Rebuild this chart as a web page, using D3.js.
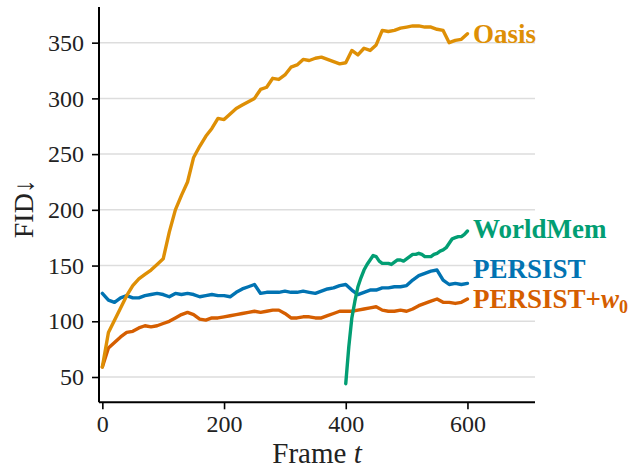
<!DOCTYPE html>
<html>
<head>
<meta charset="utf-8">
<script src="https://cdn.jsdelivr.net/npm/d3@7"></script>
<style>
  body { margin: 0; background: #fff; }
  text { font-family: "Liberation Serif", "Times New Roman", serif; }
</style>
</head>
<body>
<script>
// data (FID per frame)
const frames = [0, 10, 20, 30, 40, 50, 60, 70, 80, 90, 100, 110, 120, 130, 140, 150, 160, 170, 180, 190,
  200, 210, 220, 230, 240, 250, 260, 270, 280, 290, 300, 310, 320, 330, 340, 350, 360, 370, 380, 390,
  400, 410, 420, 430, 440, 450, 460, 470, 480, 490, 500, 510, 520, 530, 540, 550, 560, 570, 580, 590, 600];
const oasis = [59, 90, 101, 112, 123, 132, 138, 142, 146, 151, 156, 180, 200, 213, 225, 247, 257, 266, 273, 282,
  281, 286, 291, 294, 297, 300, 308, 310, 318, 317, 321, 328, 330, 335, 334, 336, 337, 335, 333, 331,
  332, 343, 339, 345, 343, 348, 361, 360, 361, 363, 364, 365, 365, 364, 364, 362, 361, 350, 352, 353, 358];
const persist = [125, 119, 117, 121, 123, 121, 121, 123, 124, 125, 124, 122, 125, 124, 125, 124, 122, 123, 124, 123,
  123, 122, 126, 129, 131, 133, 125, 126, 126, 126, 127, 126, 126, 127, 126, 125, 127, 129, 130, 132,
  133, 128, 124, 126, 128, 128, 130, 130, 131, 131, 132, 137, 141, 143, 145, 146, 137, 133, 134, 133, 134];
const persistW0 = [59, 76, 81, 86, 90, 91, 94, 96, 95, 96, 98, 100, 103, 106, 108, 106, 102, 101, 103, 103,
  104, 105, 106, 107, 108, 109, 108, 109, 110, 110, 107, 103, 103, 104, 104, 103, 103, 105, 107, 109,
  109, 109, 110, 111, 112, 113, 110, 109, 109, 110, 109, 111, 114, 116, 118, 120, 117, 117, 116, 117, 120];
const worldMemFrames = [400, 405, 410, 415, 420, 425, 430, 435, 440, 445, 450, 455, 460, 465, 470, 475, 480, 485, 490, 495,
  500, 505, 510, 515, 520, 525, 530, 535, 540, 545, 550, 555, 560, 565, 570, 575, 580, 585, 590, 595, 600];
const worldMem = [44, 77, 103, 118, 131, 139, 146, 151, 155, 159, 158, 154, 152, 152, 152, 151, 153, 155, 155, 154,
  156, 158, 160, 160, 161, 160, 158, 158, 158, 160, 161, 163, 164, 166, 170, 174, 175, 176, 176, 178, 181];
const xTicks = [0, 200, 400, 600];
const yTicks = [50, 100, 150, 200, 250, 300, 350];

const width = 643, height = 472;
const svg = d3.select("body").append("svg").attr("width", width).attr("height", height);

const x = d3.scaleLinear().domain([-5.5, 711]).range([99, 535]);
const y = d3.scaleLinear().domain([27.3, 382]).range([402.3, 7]);

// grid
svg.append("g").selectAll("line")
  .data(yTicks)
  .enter().append("line")
  .attr("x1", x.range()[0]).attr("x2", x.range()[1])
  .attr("y1", d => y(d)).attr("y2", d => y(d))
  .attr("stroke", "#dddddd")
  .attr("stroke-width", 1.5);

// series
const series = [
  { name: "PERSIST", xs: frames, ys: persist, color: "#0173B2", labelAt: 147 },
  { name: "PERSIST+w0", xs: frames, ys: persistW0, color: "#D55E00", labelAt: 120 },
  { name: "Oasis", xs: frames, ys: oasis, color: "#DE8F05", labelAt: 358 },
  { name: "WorldMem", xs: worldMemFrames, ys: worldMem, color: "#029E73", labelAt: 183 }
];

const line = d3.line().x(d => x(d[0])).y(d => y(d[1]));

series.forEach(s => {
  svg.append("path")
    .datum(s.xs.map((f, i) => [f, s.ys[i]]))
    .attr("d", line)
    .attr("fill", "none")
    .attr("stroke", s.color)
    .attr("stroke-width", 3.4)
    .attr("stroke-linejoin", "round")
    .attr("stroke-linecap", "round");

  const t = svg.append("text")
    .attr("x", 473)
    .attr("y", y(s.labelAt))
    .attr("dy", "0.35em")
    .attr("fill", s.color)
    .attr("font-size", 27)
    .attr("font-weight", "bold");
  if (s.name === "PERSIST+w0") {
    t.append("tspan").text("PERSIST+");
    t.append("tspan").attr("font-style", "italic").text("w");
    t.append("tspan").attr("font-size", 18).attr("dy", 5).text("0");
  } else {
    t.text(s.name);
  }
});

// axes
const xAxis = svg.append("g")
  .attr("transform", `translate(0,${y.range()[0]})`)
  .call(d3.axisBottom(x).tickValues(xTicks).tickSize(7).tickPadding(6));
const yAxis = svg.append("g")
  .attr("transform", `translate(${x.range()[0]},0)`)
  .call(d3.axisLeft(y).tickValues(yTicks).tickSize(7).tickPadding(8));

[xAxis, yAxis].forEach(a => {
  a.attr("font-family", null);
  a.select(".domain").attr("stroke", "#000").attr("stroke-width", 2);
  a.selectAll(".tick line").attr("stroke", "#000").attr("stroke-width", 1.6);
  a.selectAll(".tick text")
    .attr("font-size", 24)
    .attr("fill", "#222");
});
// plain spines like matplotlib (no outer ticks)
xAxis.select(".domain").attr("d", `M${x.range()[0]},0H${x.range()[1]}`);
yAxis.select(".domain").attr("d", `M0,${y.range()[0]}V${y.range()[1]}`);

// axis titles
const xt = svg.append("text")
  .attr("x", (x.range()[0] + x.range()[1]) / 2)
  .attr("y", 463)
  .attr("text-anchor", "middle")
  .attr("font-size", 29)
  .attr("fill", "#222");
xt.append("tspan").text("Frame ");
xt.append("tspan").attr("font-style", "italic").text("t");

svg.append("text")
  .attr("transform", `translate(33,${(y.range()[0] + y.range()[1]) / 2 + 4}) rotate(-90)`)
  .attr("text-anchor", "middle")
  .attr("font-size", 28)
  .attr("fill", "#222")
  .text("FID↓");
</script>
</body>
</html>
